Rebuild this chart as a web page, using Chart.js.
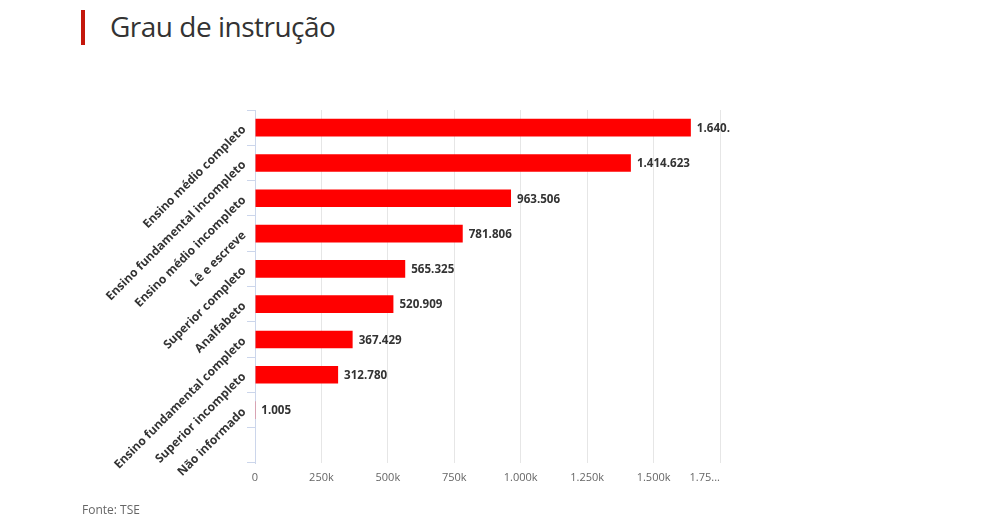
<!DOCTYPE html>
<html>
<head>
<meta charset="utf-8">
<script src="https://cdn.jsdelivr.net/npm/chart.js@4"></script>
<style>
  html, body { margin: 0; padding: 0; background: #fff; }
  #wrap { position: relative; width: 1006px; height: 530px; }
  #title {
    position: absolute; left: 81px; top: 10px; height: 35px;
    border-left: 4px solid #c4170c; padding-left: 25px;
    font-family: "Open Sans", sans-serif; font-size: 28px; line-height: 33px;
    color: #333; letter-spacing: -0.5px;
  }
  #fonte {
    position: absolute; left: 82px; top: 501px;
    font-family: "Open Sans", sans-serif; font-size: 12px; color: #666;
  }
  canvas { position: absolute; left: 0; top: 0; }
</style>
</head>
<body>
<div id="wrap">
  <div id="title">Grau de instrução</div>
  <canvas id="myChart" width="1006" height="530"></canvas>
  <div id="fonte">Fonte: TSE</div>
</div>
<script>
const categories = [
    'Ensino médio completo',
    'Ensino fundamental incompleto',
    'Ensino médio incompleto',
    'Lê e escreve',
    'Superior completo',
    'Analfabeto',
    'Ensino fundamental completo',
    'Superior incompleto',
    'Não informado',
    '',
];
const values = [1640328, 1414623, 963506, 781806, 565325, 520909, 367429, 312780, 1005, null];
const tickLabels = ['0', '250k', '500k', '750k', '1.000k', '1.250k', '1.500k', '1.75...'];

function formatBR(v) {
    return String(v).replace(/\B(?=(\d{3})+(?!\d))/g, '.');
}

// rótulos de valor ao lado das barras, cortados se passarem do limite
const valueLabels = {
    id: 'valueLabels',
    afterDatasetsDraw(chart) {
        const ctx = chart.ctx;
        const meta = chart.getDatasetMeta(0);
        const limit = 733;
        ctx.save();
        ctx.font = 'bold 11.6px "Open Sans"';
        ctx.fillStyle = '#333';
        ctx.textBaseline = 'middle';
        meta.data.forEach((bar, i) => {
            const v = values[i];
            if (v === null) return;
            let txt = formatBR(v);
            const x = bar.x + 6;
            while (txt.length > 1 && x + ctx.measureText(txt).width > limit) {
                txt = txt.slice(0, -1);
            }
            ctx.fillText(txt, x, bar.y + 1);
        });
        ctx.restore();
    },
};

// último rótulo do eixo x alinhado à direita
const lastTickRight = {
    id: 'lastTickRight',
    beforeDraw(chart) {
        const scale = chart.scales.x;
        const items = scale.getLabelItems();
        const last = items[items.length - 1];
        if (last) {
            last.options.textAlign = 'right';
            last.options.translation = [scale.right, last.options.translation[1]];
        }
    },
};

const data = {
    labels: categories,
    datasets: [
        {
            data: values,
            backgroundColor: '#ff0000',
            barPercentage: 0.5,
            categoryPercentage: 1,
        },
    ],
};

const config = {
    type: 'bar',
    data: data,
    options: {
        indexAxis: 'y',
        responsive: false,
        animation: false,
        layout: { padding: { left: 0, top: 110, right: 286, bottom: 37 } },
        plugins: {
            legend: { display: false },
            title: { display: false },
            tooltip: { enabled: false },
        },
        scales: {
            x: {
                min: 0,
                max: 1750000,
                ticks: {
                    stepSize: 250000,
                    padding: 8,
                    color: '#666',
                    font: { family: 'Open Sans', size: 11 },
                    callback: (v, i) => tickLabels[i],
                },
                grid: { color: '#e6e6e6', drawTicks: false },
                border: { display: false },
                afterFit: (s) => { s.height = 30; },
            },
            y: {
                ticks: {
                    minRotation: 45,
                    maxRotation: 45,
                    autoSkip: false,
                    padding: 3,
                    color: '#333',
                    font: { family: 'Open Sans', size: 12, weight: 'bold' },
                },
                grid: { drawOnChartArea: false, drawTicks: true, tickLength: 8, color: '#ccd6eb', offset: true },
                border: { color: '#ccd6eb' },
                afterFit: (s) => { s.width = 255; },
            },
        },
    },
    plugins: [valueLabels, lastTickRight],
};

const myChart = new Chart(document.getElementById('myChart'), config);
</script>
</body>
</html>
